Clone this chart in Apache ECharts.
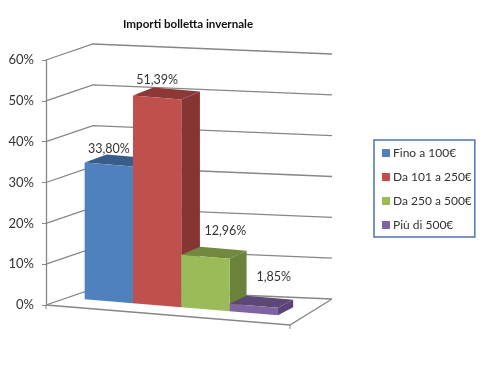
<!DOCTYPE html>
<html>
<head>
<meta charset="utf-8">
<style>
html,body{margin:0;padding:0;background:#fff;}
#main{width:487px;height:376px;}
</style>
<script src="https://cdn.jsdelivr.net/npm/echarts@6/dist/echarts.min.js"></script>
</head>
<body>
<div id="main"></div>
<script>
var categories = ['Fino a 100€', 'Da 101 a 250€', 'Da 250 a 500€', 'Più di 500€'];
var values = [33.80, 51.39, 12.96, 1.85];
var yTicks = [0, 10, 20, 30, 40, 50, 60];

var frontColors = ['#4F81BD', '#C0504D', '#9BBB59', '#8064A2'];
var topColors = ['#385D8A', '#8C3836', '#71893F', '#5C4776'];
var sideColors = ['#3F689A', '#863533', '#6A8239', '#5A4378'];
// posizione delle etichette rispetto allo spigolo anteriore della barra
var labelShift = [[0, -14], [0, -16], [20, -24], [20, -27]];

var GRID_LEFT = 46, SLOPE = 0.083, SETBACK = 9, DEPTH_Y = -8, HEIGHT_SCALE = 0.99;

function wallItem(params, api) {
	var p = api.coord([-0.8, api.value(0)]);
	var isFloor = api.value(0) === 0;
	var children = [{
		type: 'polyline',
		shape: { points: [p, [p[0] + 47, p[1] - 16], [p[0] + 286, p[1] - 6]] },
		style: { stroke: '#868686', lineWidth: 1.3, fill: null }
	}];
	if (isFloor) {
		children.push({
			type: 'polyline',
			shape: { points: [[p[0] + 286, p[1] - 6], [p[0] + 244, p[1] + 20], [p[0], p[1]]] },
			style: { stroke: '#868686', lineWidth: 1.3, fill: null }
		});
		children.push({
			type: 'line',
			shape: { x1: p[0] + 244, y1: p[1] + 20, x2: p[0] + 244, y2: p[1] + 24 },
			style: { stroke: '#868686', lineWidth: 1 }
		});
		children.push({
			type: 'line',
			shape: { x1: p[0], y1: p[1], x2: p[0], y2: p[1] + 4 },
			style: { stroke: '#868686', lineWidth: 1 }
		});
	}
	return { type: 'group', children: children };
}

function barItem(params, api) {
	var i = api.value(0), v = api.value(1);
	function pt(x, val) {
		var c = api.coord([x, val * HEIGHT_SCALE]);
		return [c[0], c[1] + (c[0] - GRID_LEFT) * SLOPE - SETBACK];
	}
	// la profondita si riduce verso destra (prospettiva)
	function back(p) {
		return [p[0] + 22 - (p[0] - 85) * 0.035, p[1] + DEPTH_Y];
	}
	var bl = pt(i, 0), br = pt(i + 1, 0), tl = pt(i, v), tr = pt(i + 1, v);
	return {
		type: 'group',
		children: [{
			type: 'polygon',
			shape: { points: [br, back(br), back(tr), tr] },
			style: { fill: sideColors[i] }
		}, {
			type: 'polygon',
			shape: { points: [tl, back(tl), back(tr), tr] },
			style: { fill: topColors[i] }
		}, {
			type: 'polygon',
			shape: { points: [bl, br, tr, tl] },
			style: { fill: frontColors[i] }
		}, {
			type: 'text',
			style: {
				x: (tl[0] + tr[0]) / 2 + labelShift[i][0],
				y: tl[1] + labelShift[i][1],
				text: v.toFixed(2).replace('.', ',') + '%',
				fill: '#333',
				font: '12.5px Lato',
				align: 'center',
				verticalAlign: 'middle'
			}
		}]
	};
}

var series = [{
	type: 'custom',
	name: 'pareti',
	silent: true,
	clip: false,
	renderItem: wallItem,
	data: yTicks.map(function (t) { return [t]; }),
	encode: { y: 0 }
}];
for (var i = 0; i < categories.length; i++) {
	series.push({
		type: 'custom',
		name: categories[i],
		clip: false,
		renderItem: barItem,
		itemStyle: { color: frontColors[i] },
		data: [[i, values[i]]],
		encode: { x: 0, y: 1 }
	});
}

var myChart = echarts.init(document.getElementById('main'));
myChart.setOption({
	animation: false,
	backgroundColor: '#fff',
	title: {
		text: 'Importi bolletta invernale',
		left: 123,
		top: 18,
		padding: 0,
		textStyle: { fontFamily: 'Lato', fontSize: 11.6, fontWeight: 'bold', color: '#111' }
	},
	legend: {
		left: 374,
		top: 140,
		orient: 'vertical',
		data: categories,
		icon: 'rect',
		itemWidth: 8,
		itemHeight: 8,
		itemGap: 8,
		padding: [5, 3, 4, 8],
		borderColor: '#4F73AE',
		borderWidth: 1.5,
		textStyle: { fontFamily: 'Lato', fontSize: 12, color: '#333', padding: [0, 0, 0, -2], lineHeight: 16 }
	},
	grid: { left: GRID_LEFT, top: 60, width: 244, height: 245 },
	xAxis: { type: 'value', min: -0.8, max: 4.25, show: false },
	yAxis: {
		type: 'value',
		min: 0,
		max: 60,
		interval: 10,
		axisLine: { show: true, onZero: false, lineStyle: { color: '#868686', width: 1.3 } },
		axisTick: { show: true, length: 4, lineStyle: { color: '#868686' } },
		splitLine: { show: false },
		axisLabel: { formatter: '{value}%', fontFamily: 'Lato', fontSize: 13, color: '#333', margin: 12 }
	},
	series: series
});
</script>
</body>
</html>
